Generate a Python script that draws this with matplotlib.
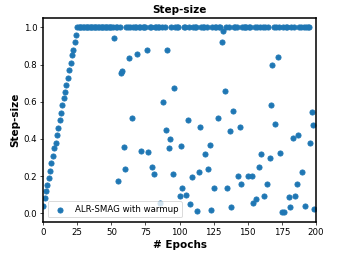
import numpy as np
import matplotlib
matplotlib.use('Agg')
import matplotlib.pyplot as plt

# step-size per epoch, 200 epochs (0..199)
n_epochs = 200

# linear warmup over the first 26 epochs
warmup = [0.04, 0.08, 0.12, 0.15, 0.19, 0.23, 0.27, 0.31, 0.35, 0.38, 0.42, 0.46, 0.50,
          0.54, 0.58, 0.62, 0.65, 0.69, 0.73, 0.77, 0.81, 0.85, 0.88, 0.92, 0.96, 1.0]

# epochs where the step-size dropped below 1.0 after warmup
dip_epochs = [52, 55, 57, 58, 59, 60, 63, 65, 69, 72, 76, 77, 80, 81, 86, 88, 90, 91, 92, 93,
              95, 96, 100, 101, 102, 105, 106, 108, 109, 113, 114, 115, 119, 121, 122, 123,
              125, 128, 131, 132, 133, 135, 137, 138, 139, 143, 144, 145, 150, 153, 154, 156,
              158, 160, 162, 164, 166, 167, 168, 170, 172, 174, 175, 177, 180, 181, 183, 185,
              186, 187, 190, 192, 196, 197, 198, 199]
dip_values = [0.94, 0.172, 0.757, 0.767, 0.354, 0.24, 0.835, 0.515, 0.859, 0.333, 0.877, 0.33,
              0.247, 0.213, 0.057, 0.60, 0.45, 0.877, 0.353, 0.397,
              0.213, 0.675, 0.093, 0.361, 0.138, 0.10, 0.50, 0.05, 0.193, 0.012, 0.224, 0.465,
              0.32, 0.238, 0.365, 0.02,
              0.134, 0.51, 0.92, 0.982, 0.66, 0.136, 0.44, 0.032, 0.55, 0.20, 0.463, 0.159,
              0.20, 0.20, 0.054, 0.075,
              0.247, 0.317, 0.093, 0.156, 0.295, 0.585, 0.80, 0.478, 0.843, 0.322, 0.005, 0.005,
              0.086, 0.036, 0.406, 0.093,
              0.159, 0.419, 0.224, 0.041, 0.38, 0.547, 0.476, 0.023]

epochs = np.arange(n_epochs)
step = np.ones(n_epochs)
step[:len(warmup)] = warmup
step[dip_epochs] = dip_values

dpi = 62
fig = plt.figure(figsize=(349 / dpi, 262 / dpi), dpi=dpi)
ax = fig.add_axes([0.124, 0.154, 0.781, 0.777])

ax.scatter(epochs, step, label='ALR-SMAG with warmup')
ax.set_xlim(0, 200)
ax.set_title('Step-size', fontweight='bold', fontsize=12)
ax.set_xlabel('# Epochs', fontweight='bold', fontsize=12)
ax.set_ylabel('Step-size', fontweight='bold', fontsize=12)
for s in ax.spines.values():
    s.set_linewidth(1.8)
ax.legend(loc='lower left')

fig.savefig('out.png', dpi=dpi)
